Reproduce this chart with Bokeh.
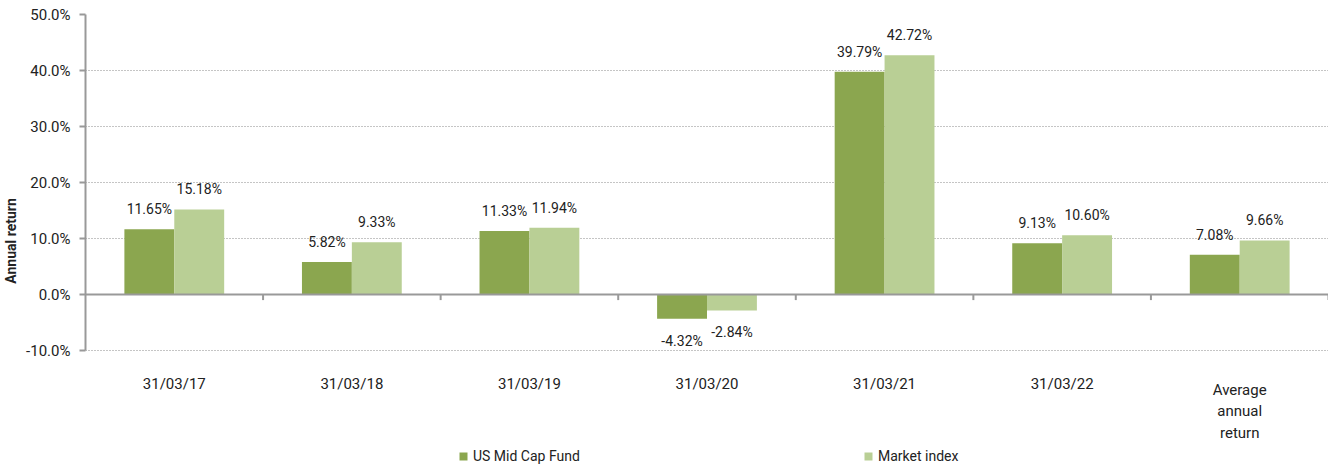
from bokeh.plotting import figure
from bokeh.models import (Range1d, FixedTicker, PrintfTickFormatter, Span, Legend, LegendItem,
                          ColumnDataSource)
from bokeh.core.properties import value
from bokeh.embed import file_html
from bokeh.resources import INLINE

categories = ["31/03/17", "31/03/18", "31/03/19", "31/03/20", "31/03/21", "31/03/22",
              "Average\nannual\nreturn"]
fund = [11.65, 5.82, 11.33, -4.32, 39.79, 9.13, 7.08]
index = [15.18, 9.33, 11.94, -2.84, 42.72, 10.60, 9.66]
y_ticks = [-10, 0, 10, 20, 30, 40, 50]

FUND_C = "#8BA64F"
INDEX_C = "#B9CF95"
TXT = "#222222"
FONT = "Roboto"

W, H = 1328, 467
LEFT, TOP = 84, 14
PX_PER_UNIT = 336 / (max(y_ticks) - min(y_ticks))
y_lo = min(y_ticks) - (H - 350) / PX_PER_UNIT  # frame extends down to the page bottom

n = len(categories)
centers = [i + 0.5 for i in range(n)]
bw = 0.281
off = bw / 2

p = figure(width=W, height=H, output_backend="svg", toolbar_location=None,
           x_range=Range1d(0, n), y_range=Range1d(y_lo, max(y_ticks)),
           x_axis_location=None,
           min_border_left=LEFT, min_border_right=0, min_border_top=TOP, min_border_bottom=0)
p.outline_line_color = None
p.background_fill_color = "white"

src_f = ColumnDataSource(dict(x=[c - off for c in centers], top=fund,
                              lab=[f"{v:.2f}%" for v in fund],
                              yo=[-20 if v >= 0 else 22 for v in fund]))
src_i = ColumnDataSource(dict(x=[c + off for c in centers], top=index,
                              lab=[f"{v:.2f}%" for v in index],
                              yo=[-20 if v >= 0 else 22 for v in index]))

r1 = p.vbar(x="x", top="top", bottom=0, width=bw, source=src_f, fill_color=FUND_C, line_color=None)
r2 = p.vbar(x="x", top="top", bottom=0, width=bw, source=src_i, fill_color=INDEX_C, line_color=None)

for src in (src_f, src_i):
    p.text(x="x", y="top", text="lab", source=src, y_offset="yo", text_align="center",
           text_baseline="middle", text_font=value(FONT), text_font_size="14px", text_color=TXT)

# zero line with tick marks at category boundaries
p.add_layout(Span(location=0, dimension="width", line_color="#999999", line_width=2))
bounds = list(range(1, n + 1))
p.segment(x0=bounds, x1=bounds, y0=[0] * len(bounds), y1=[-1.0] * len(bounds),
          line_color="#999999", line_width=2)

# category labels under the chart
nlines = [c.count("\n") + 1 for c in categories]
src_c = ColumnDataSource(dict(x=centers, y=[min(y_ticks)] * n, t=categories,
                              yo=[33 + 14 * (k - 1) for k in nlines]))
p.text(x="x", y="y", text="t", source=src_c, y_offset="yo", text_align="center",
       text_baseline="middle", text_font=value(FONT), text_font_size="15px", text_color=TXT,
       text_line_height=1.2)

# grid
p.xgrid.grid_line_color = None
p.ygrid.ticker = FixedTicker(ticks=[t for t in y_ticks if t != 0])
p.ygrid.grid_line_color = "#8a8a8a"
p.ygrid.grid_line_dash = "1 2"
p.ygrid.grid_line_width = 1

# y axis
p.yaxis.ticker = FixedTicker(ticks=y_ticks)
p.yaxis.bounds = (min(y_ticks), max(y_ticks))
p.yaxis.formatter = PrintfTickFormatter(format="%.1f%%")
p.yaxis.axis_line_color = "#999999"
p.yaxis.axis_line_width = 2
p.yaxis.major_tick_line_color = "#999999"
p.yaxis.major_tick_line_width = 2
p.yaxis.major_tick_out = 6
p.yaxis.major_tick_in = 0
p.yaxis.minor_tick_line_color = None
p.yaxis.major_label_standoff = 9
p.yaxis.major_label_text_font = FONT
p.yaxis.major_label_text_font_size = "15px"
p.yaxis.major_label_text_color = TXT
p.yaxis.axis_label = "Annual return"
p.yaxis.axis_label_text_font = FONT
p.yaxis.axis_label_text_font_style = "bold"
p.yaxis.axis_label_text_font_size = "14px"
p.yaxis.axis_label_text_color = TXT
p.yaxis.axis_label_standoff = 4

legend = Legend(items=[LegendItem(label="US Mid Cap Fund", renderers=[r1]),
                       LegendItem(label="Market index", renderers=[r2])],
                orientation="horizontal", location=(457 - LEFT, 2), spacing=0,
                glyph_width=10, glyph_height=10, label_standoff=5,
                label_width=390, label_height=18,
                label_text_font=FONT, label_text_font_size="14px", label_text_color=TXT,
                border_line_color=None, background_fill_alpha=0, padding=0, margin=0)
p.add_layout(legend, "center")

open("out.html", "w").write(file_html(p, INLINE))
